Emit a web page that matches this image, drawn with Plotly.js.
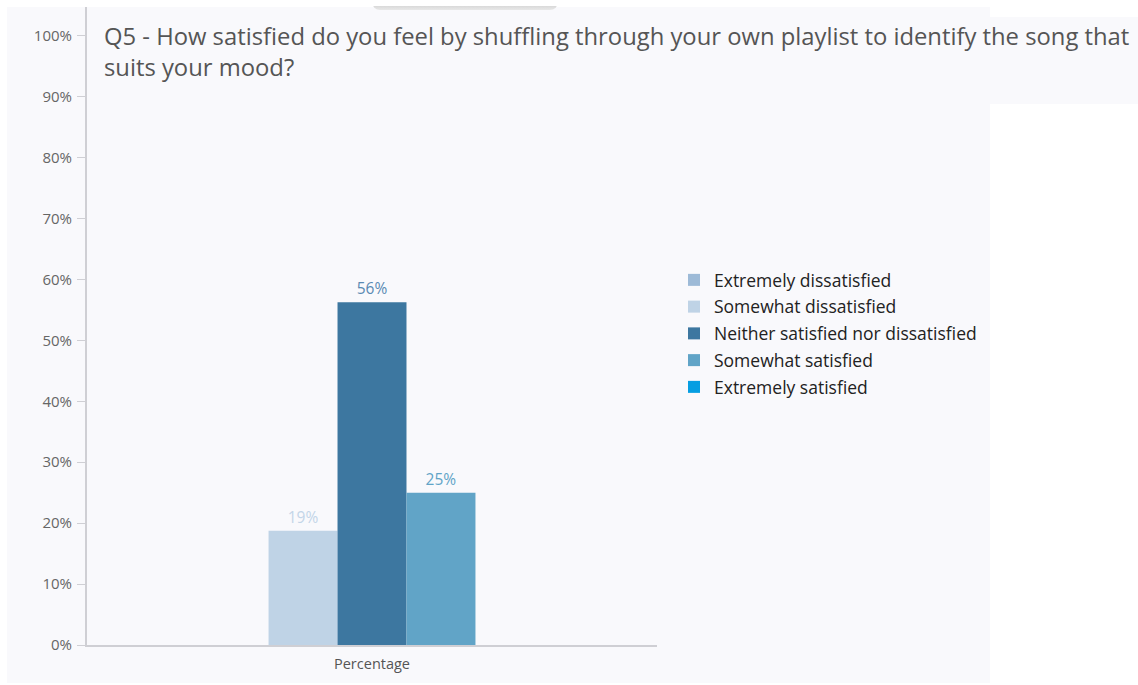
<!DOCTYPE html>
<html>
<head>
<meta charset="utf-8">
<script src="https://cdn.plot.ly/plotly-3.0.1.min.js"></script>
<style>
  html, body { margin: 0; padding: 0; background: #ffffff; }
  #wrap { position: relative; width: 1138px; height: 685px; overflow: hidden; }
  .bg { position: absolute; background: #f9f9fc; }
  #chart { position: absolute; left: 0; top: 0; width: 1138px; height: 685px; }
  #tab { position: absolute; left: 372px; top: 0px; width: 186px; height: 10px;
         background: linear-gradient(#ffffff, #ffffff 55%, #d9d9d9 60%, #e8e8e8 100%);
         border-radius: 0 0 8px 8px; }
</style>
</head>
<body>
<div id="wrap">
  <div class="bg" style="left:7px; top:7px; width:983px; height:676px;"></div>
  <div class="bg" style="left:990px; top:17px; width:148px; height:87px;"></div>
  <div id="tab"></div>
  <div id="chart"></div>
</div>
<script>
const categories = ["Percentage"];
const seriesNames = [
  "Extremely dissatisfied",
  "Somewhat dissatisfied",
  "Neither satisfied nor dissatisfied",
  "Somewhat satisfied",
  "Extremely satisfied"
];
const extremelyDissatisfied = [0];
const somewhatDissatisfied = [18.75];
const neitherSatisfied = [56.25];
const somewhatSatisfied = [25];
const extremelySatisfied = [0];
const yTickVals = [0, 10, 20, 30, 40, 50, 60, 70, 80, 90, 100];
const yTickText = ["0%", "10%", "20%", "30%", "40%", "50%", "60%", "70%", "80%", "90%", "100%"];

const colors = ["#9dbad7", "#bfd3e6", "#3d77a0", "#61a4c7", "#069ee2"];
const textColors = ["#9dbad7", "#c3d5e8", "#5a8ab3", "#61a4c7", "#069ee2"];
const offsetGroups = ["a", "a", "b", "c", "c"];
const values = [extremelyDissatisfied, somewhatDissatisfied, neitherSatisfied, somewhatSatisfied, extremelySatisfied];

const traces = seriesNames.map((name, i) => ({
  type: "bar",
  name: name,
  legendgroup: "g" + i,
  x: categories,
  y: values[i],
  offsetgroup: offsetGroups[i],
  marker: { color: colors[i], line: { width: 0 } },
  text: values[i].map(v => v > 0 ? Math.round(v) + "%" : ""),
  textposition: "outside",
  cliponaxis: false,
  textfont: { family: "Open Sans, sans-serif", size: 15.5, color: textColors[i] },
  hoverinfo: "skip"
}));

const layout = {
  width: 1138,
  height: 685,
  paper_bgcolor: "rgba(0,0,0,0)",
  plot_bgcolor: "rgba(0,0,0,0)",
  margin: { l: 87, r: 481, t: 7, b: 40 },
  barmode: "group",
  bargap: 0.637,
  bargroupgap: 0,
  title: {
    text: "Q5 - How satisfied do you feel by shuffling through your own playlist to identify the song that<br>suits your mood?",
    font: { family: "Open Sans, sans-serif", size: 23.8, color: "#555555" },
    xref: "container", yref: "container",
    x: 104 / 1138, xanchor: "left",
    y: 1 - 45 / 685, yanchor: "top",
    align: "left"
  },
  xaxis: {
    type: "category",
    showline: true,
    linecolor: "#cfcfd4",
    linewidth: 2,
    showgrid: false,
    zeroline: false,
    ticks: "",
    ticklabelstandoff: 5,
    tickfont: { family: "Open Sans, sans-serif", size: 14.5, color: "#555555" },
    fixedrange: true
  },
  yaxis: {
    range: [0, 104.7],
    tickvals: yTickVals,
    ticktext: yTickText,
    showline: true,
    linecolor: "#cfcfd4",
    linewidth: 2,
    showgrid: false,
    zeroline: false,
    ticks: "outside",
    ticklen: 8,
    tickcolor: "#cfcfd4",
    tickwidth: 1,
    ticklabelstandoff: 2,
    tickfont: { family: "Open Sans, sans-serif", size: 15, color: "#666666" },
    fixedrange: true
  },
  legend: {
    x: (674 - 87) / 570,
    xanchor: "left",
    y: 1 - (262 - 7) / 638,
    yanchor: "top",
    bgcolor: "rgba(0,0,0,0)",
    font: { family: "Open Sans, sans-serif", size: 17.5, color: "#222222" },
    traceorder: "grouped",
    tracegroupgap: 1,
    itemclick: false,
    itemdoubleclick: false
  },
  showlegend: true
};

Plotly.newPlot("chart", traces, layout, { displayModeBar: false, staticPlot: true });
</script>
</body>
</html>
